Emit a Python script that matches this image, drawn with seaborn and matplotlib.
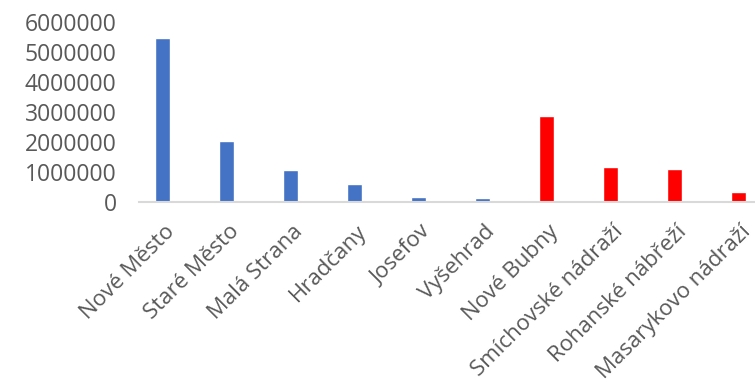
import pandas as pd
import numpy as np
import matplotlib
matplotlib.use("Agg")
import matplotlib.pyplot as plt
import matplotlib.transforms as mtransforms
import seaborn as sns

# data
districts = ["Nové Město", "Staré Město", "Malá Strana", "Hradčany", "Josefov",
             "Vyšehrad", "Nové Bubny", "Smíchovské nádraží", "Rohanské nábřeží",
             "Masarykovo nádraží"]
values = [5460000, 2030000, 1060000, 590000, 160000,
          125000, 2860000, 1160000, 1090000, 320000]
colors = ["#4472c4"] * 6 + ["#ff0000"] * 4
yticks = [0, 1000000, 2000000, 3000000, 4000000, 5000000, 6000000]

df = pd.DataFrame({"district": districts, "value": values})

sns.set_theme(style="white")
plt.rcParams["font.family"] = ["Open Sans", "DejaVu Sans"]

fig = plt.figure(figsize=(7.55, 3.84), dpi=100)
ax = fig.add_axes([0.184, 0.4747, 0.825, 0.4688])

sns.barplot(data=df, x="district", y="value", hue="district",
            palette=colors, width=0.234, legend=False, saturation=1, ax=ax)

ax.set_xlim(-0.367, 9.367)
ax.set_ylim(0, 6000000)
ax.set_yticks(yticks)
ax.set_yticklabels([str(v) for v in yticks])
ax.set_xlabel("")
ax.set_ylabel("")

for side in ["top", "right", "left"]:
    ax.spines[side].set_visible(False)
ax.spines["bottom"].set_color("#d9d9d9")
ax.spines["bottom"].set_linewidth(1.5)

ax.tick_params(axis="y", length=0, pad=16, labelsize=16.5, labelcolor="#595959")
ax.tick_params(axis="x", length=0, pad=14, labelsize=16, labelcolor="#595959")
ax.set_xticks(range(len(districts)))
ax.set_xticklabels(districts, rotation=45, ha="right", va="top",
                   rotation_mode="anchor")

# nudge x labels a little to the right, like the Excel layout
shift = mtransforms.ScaledTranslation(2 / 100, 0, fig.dpi_scale_trans)
for lab in ax.get_xticklabels():
    lab.set_transform(lab.get_transform() + shift)

fig.savefig("out.png", dpi=100)
